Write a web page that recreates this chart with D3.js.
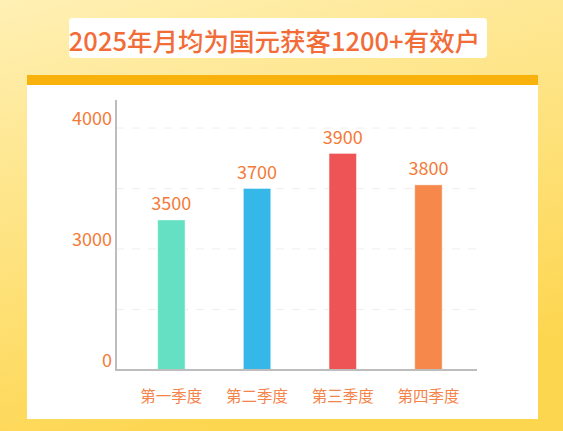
<script src="https://d3js.org/d3.v7.min.js"></script>
<style>
  body { margin: 0; }
  svg { display: block; font-family: "Noto Sans CJK SC", "Noto Sans", sans-serif; }
</style>
<body>
<svg id="chart"></svg>
</body>
<script type="text/javascript">

var title = "2025年月均为国元获客1200+有效户";
var quarters = ["第一季度", "第二季度", "第三季度", "第四季度"];
var values = [3500, 3700, 3900, 3800];
// bar heights as drawn in the picture, in axis units (the axis is broken: 0 -> 3000 -> 4000)
var barLevels = [3240, 3500, 3790, 3530];
var barColors = ["#66e0c2", "#35b8e8", "#ee5455", "#f5884a"];
var tickLabels = [0, 3000, 4000];
var gridValues = [0, 1500, 3000, 3500, 4000];

var width = 563, height = 431;

var svg = d3.select("#chart")
    .attr("width", width)
    .attr("height", height);

var defs = svg.append("defs");
var grad = defs.append("linearGradient")
    .attr("id", "bg")
    .attr("x1", "0").attr("y1", "0")
    .attr("x2", "0.35").attr("y2", "1");
grad.append("stop").attr("offset", "0").attr("stop-color", "#fff0b4");
grad.append("stop").attr("offset", "1").attr("stop-color", "#fdd650");

svg.append("rect")
    .attr("width", width)
    .attr("height", height)
    .attr("fill", "url(#bg)");

// title box
svg.append("rect")
    .attr("x", 69).attr("y", 18)
    .attr("width", 418).attr("height", 40)
    .attr("rx", 4)
    .attr("fill", "#ffffff");

svg.append("text")
    .attr("x", 274.5).attr("y", 39)
    .attr("text-anchor", "middle")
    .attr("dominant-baseline", "central")
    .style("font-size", "25.5px")
    .style("font-weight", 500)
    .attr("fill", "#f26c38")
    .text(title);

// card
svg.append("rect")
    .attr("x", 27).attr("y", 75)
    .attr("width", 511).attr("height", 344)
    .attr("fill", "#ffffff");
svg.append("rect")
    .attr("x", 27).attr("y", 75)
    .attr("width", 511).attr("height", 10)
    .attr("fill", "#f9b10c");

var x = d3.scaleBand()
    .domain(quarters)
    .range([128.5, 471.3])
    .paddingInner(0.68)
    .paddingOuter(0.34);

var y = d3.scaleLinear()
    .domain([0, 3000, 4000])
    .range([370, 249, 128]);

var axisLeft = 116, axisRight = 477;

// grid lines
svg.selectAll(".grid")
    .data(gridValues.slice(1))
  .enter().append("line")
    .attr("class", "grid")
    .attr("x1", axisLeft).attr("x2", axisRight)
    .attr("y1", function(d) { return y(d); })
    .attr("y2", function(d) { return y(d); })
    .attr("stroke", "#eeeeee")
    .attr("stroke-dasharray", "8,8");

// bars
svg.selectAll(".bar")
    .data(quarters)
  .enter().append("rect")
    .attr("class", "bar")
    .attr("x", function(d) { return x(d); })
    .attr("width", x.bandwidth())
    .attr("y", function(d, i) { return y(barLevels[i]); })
    .attr("height", function(d, i) { return y(0) - y(barLevels[i]); })
    .attr("fill", function(d, i) { return barColors[i]; })
    .attr("stroke", "rgba(255,255,255,0.45)")
    .attr("stroke-width", 1);

// value labels
svg.selectAll(".val")
    .data(quarters)
  .enter().append("text")
    .attr("class", "val")
    .attr("x", function(d) { return x(d) + x.bandwidth() / 2; })
    .attr("y", function(d, i) { return y(barLevels[i]) - 9.5; })
    .attr("text-anchor", "middle")
    .style("font-size", "18px")
    .attr("fill", "#f47a38")
    .text(function(d, i) { return values[i]; });

// axes
svg.append("line")
    .attr("x1", axisLeft).attr("x2", axisLeft)
    .attr("y1", 100).attr("y2", 371)
    .attr("stroke", "#bdbdbd")
    .attr("stroke-width", 2);
svg.append("line")
    .attr("x1", axisLeft - 1).attr("x2", axisRight)
    .attr("y1", 370).attr("y2", 370)
    .attr("stroke", "#bdbdbd")
    .attr("stroke-width", 2);

// y tick labels
svg.selectAll(".ytick")
    .data(tickLabels)
  .enter().append("text")
    .attr("class", "ytick")
    .attr("x", 112)
    .attr("y", function(d) { return y(d) - 3.5; })
    .attr("text-anchor", "end")
    .style("font-size", "18px")
    .attr("fill", "#f47a38")
    .text(function(d) { return d; });

// category labels
svg.selectAll(".xlab")
    .data(quarters)
  .enter().append("text")
    .attr("class", "xlab")
    .attr("x", function(d) { return x(d) + x.bandwidth() / 2; })
    .attr("y", 395)
    .attr("text-anchor", "middle")
    .attr("dominant-baseline", "central")
    .style("font-size", "15.5px")
    .attr("fill", "#f5844a")
    .text(function(d) { return d; });

</script>
